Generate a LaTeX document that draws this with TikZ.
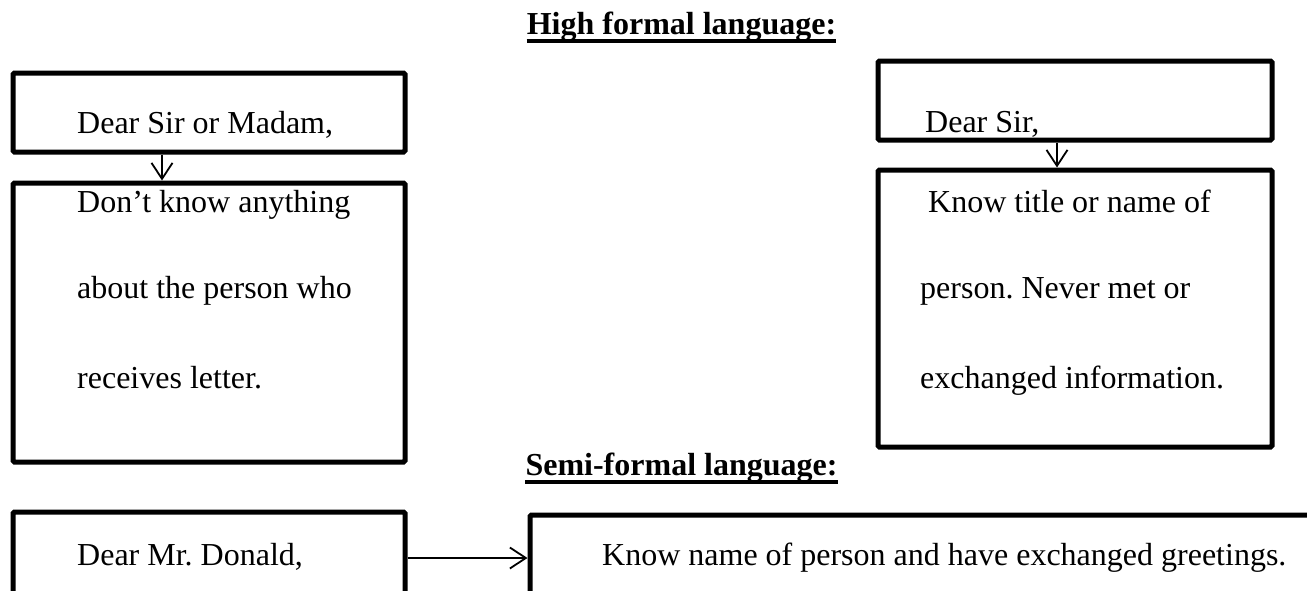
\documentclass[tikz,border=0pt]{standalone}
\usepackage{fontspec}
\setmainfont{Liberation Serif}
\usetikzlibrary{arrows.meta,calc}
\frenchspacing
\begin{document}
\begin{tikzpicture}[x=1pt,y=-1pt,
  box/.style={draw, line width=5pt, rounded corners=1.5pt, inner sep=0pt},
  txt/.style={anchor=base west, inner sep=0pt, font=\fontsize{32pt}{38pt}\selectfont},
  ttl/.style={anchor=base, inner sep=0pt, font=\fontsize{32pt}{38pt}\selectfont\bfseries},
  uline/.style={line width=3.5pt},
  arr/.style={line width=1.8pt, -{Straight Barb[length=16pt,width=21pt,line width=1.8pt]}}]
\clip (0,0) rectangle (1307,590);
% titles
\node[ttl] (t1) at (681.5,34) {High formal language:};
\draw[uline] ([yshift=-7pt]t1.base west) -- ([yshift=-7pt]t1.base east);
\node[ttl] (t2) at (681.5,475) {Semi-formal language:};
\draw[uline] ([yshift=-7pt]t2.base west) -- ([yshift=-7pt]t2.base east);
% left column
\node[box, minimum width=392pt, minimum height=79pt] (b1) at (209,112.5) {};
\node[box, minimum width=392pt, minimum height=279pt] (b2) at (209,322.5) {};
\node[txt] (l1) at (77,133) {Dear Sir or Madam,};
\node[txt] (l2) at (77,212) {Don’t know anything};
\node[txt] (l3) at (77,298) {about the person who};
\node[txt] (l4) at (77,388) {receives letter.};
\coordinate (ax1) at (162,0);
\draw[arr] (ax1 |- b1.south) -- (ax1 |- b2.north);
% right column
\node[box, minimum width=394pt, minimum height=79pt] (b3) at (1075,100.5) {};
\node[box, minimum width=394pt, minimum height=277pt] (b4) at (1075,308.5) {};
\node[txt] (r1) at (925,132) {Dear Sir,};
\node[txt] (r2) at (928,212) {Know title or name of};
\node[txt] (r3) at (920,298) {person. Never met or};
\node[txt] (r4) at (920,388) {exchanged information.};
\coordinate (ax2) at (1057,0);
\draw[arr] (ax2 |- b3.south) -- (ax2 |- b4.north);
% bottom row
\node[box, minimum width=392pt, minimum height=128pt] (b5) at (209,576) {};
\node[box, minimum width=810pt, minimum height=125pt] (b6) at (935,577.5) {};
\node[txt] (s1) at (77,565) {Dear Mr. Donald,};
\node[txt] (s2) at (602,565) {Know name of person and have exchanged greetings.};
\coordinate (ay) at (0,558);
\draw[arr] (ay -| b5.east) -- (ay -| b6.west);
\end{tikzpicture}
\end{document}
